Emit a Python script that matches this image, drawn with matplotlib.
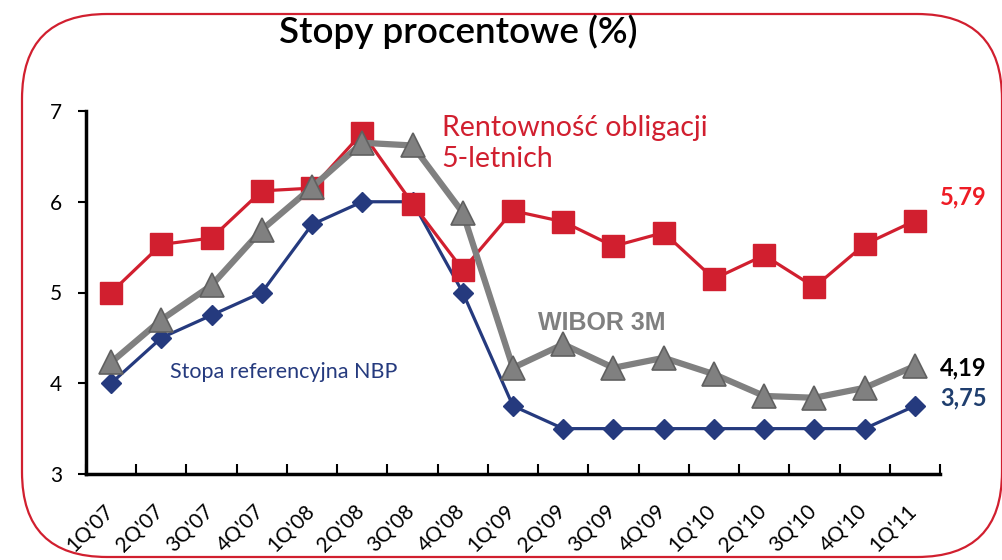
import numpy as np
import matplotlib
matplotlib.use("Agg")
import matplotlib.pyplot as plt
from matplotlib.patches import FancyBboxPatch
from matplotlib.ticker import FixedLocator, NullFormatter
from matplotlib.transforms import offset_copy

# ─── Data ───
quarters = ["1Q'07", "2Q'07", "3Q'07", "4Q'07", "1Q'08", "2Q'08", "3Q'08", "4Q'08",
            "1Q'09", "2Q'09", "3Q'09", "4Q'09", "1Q'10", "2Q'10", "3Q'10", "4Q'10", "1Q'11"]
bond_5y = [5.00, 5.53, 5.60, 6.12, 6.15, 6.76, 5.98, 5.25,
           5.90, 5.78, 5.51, 5.66, 5.15, 5.41, 5.06, 5.53, 5.79]
wibor_3m = [4.23, 4.70, 5.08, 5.69, 6.16, 6.65, 6.62, 5.88,
            4.17, 4.43, 4.17, 4.28, 4.10, 3.86, 3.84, 3.95, 4.19]
nbp_ref = [4.00, 4.50, 4.75, 5.00, 5.75, 6.00, 6.00, 5.00,
           3.75, 3.50, 3.50, 3.50, 3.50, 3.50, 3.50, 3.50, 3.75]
y_ticks = [3, 4, 5, 6, 7]

RED = "#d11f2f"
GREY = "#808080"
BLUE = "#253a7e"
CAL = "Lato"  # closest stand-in for Calibri

fig = plt.figure(figsize=(10.02, 5.6), dpi=100)

# rounded red frame (inches)
frame = FancyBboxPatch((0.22, 0.03), 9.80, 5.43,
                       boxstyle="round,pad=0,rounding_size=0.85",
                       transform=fig.dpi_scale_trans, fill=False,
                       edgecolor=RED, linewidth=1.6)
fig.patches.append(frame)

ax = fig.add_axes([86 / 1002, 1 - 474 / 560, (940 - 86) / 1002, (474 - 111) / 560])
x = np.arange(len(quarters))

ax.plot(x, nbp_ref, color=BLUE, lw=2.3, marker="D", ms=10,
        mec=BLUE, mfc=BLUE, zorder=3)
ax.plot(x, bond_5y, color=RED, lw=2.3, marker="s", ms=16,
        mec=RED, mfc=RED, zorder=4)
ax.plot(x, wibor_3m, color=GREY, lw=4.5, marker="^", ms=17,
        mec="#606060", mfc=GREY, mew=1.2, zorder=5)

ax.set_xlim(-0.5, len(quarters) - 0.5)
ax.set_ylim(3, 7)
ax.set_yticks(y_ticks)
ax.set_yticklabels([str(v) for v in y_ticks], fontsize=15, family=CAL)
ax.tick_params(axis="y", direction="out", length=6, width=1.5, pad=11)

ax.set_xticks(x)
ax.set_xticklabels([])
ax.tick_params(axis="x", which="major", length=0)
ax.xaxis.set_minor_locator(FixedLocator(np.arange(-0.5, len(quarters), 1.0)))
ax.xaxis.set_minor_formatter(NullFormatter())
ax.tick_params(axis="x", which="minor", direction="in", length=7, width=1.5)

lab_tr = offset_copy(ax.get_xaxis_transform(), fig=fig, x=-0.01, y=-0.34, units="inches")
for xi, q in zip(x, quarters):
    ax.text(xi, 0, q, transform=lab_tr, rotation=45, rotation_mode="anchor",
            ha="right", va="center", fontsize=15, family=CAL, clip_on=False)

for side in ("top", "right"):
    ax.spines[side].set_visible(False)
for side in ("left", "bottom"):
    ax.spines[side].set_linewidth(2.5)
ax.patch.set_alpha(0)

# title
fig.text(0.457, 0.943, "Stopy procentowe (%)", ha="center", va="center",
         fontsize=26.5, family=CAL, fontweight="semibold")

# series labels
ax.text(6.58, 6.64, "Rentowność obligacji\n5-letnich", color=RED, fontsize=20.5,
        family=CAL, va="center", ha="left", linespacing=1.22)
ax.text(8.5, 4.66, "WIBOR 3M", color=GREY, fontsize=18, fontweight="bold",
        family="Liberation Sans", va="center", ha="left")
ax.text(1.18, 4.12, "Stopa referencyjna NBP", color=BLUE, fontsize=15.5,
        family=CAL, va="center", ha="left")

# end values
last = len(quarters) - 1
ax.text(last + 0.5, bond_5y[-1] + 0.26, f"{bond_5y[-1]:.2f}".replace(".", ","),
        color="#ee1c25", fontsize=17, fontweight="bold", family=CAL,
        va="center", ha="left", clip_on=False)
ax.text(last + 0.5, wibor_3m[-1] - 0.02, f"{wibor_3m[-1]:.2f}".replace(".", ","),
        color="black", fontsize=17, fontweight="bold", family=CAL,
        va="center", ha="left", clip_on=False)
ax.text(last + 0.5, nbp_ref[-1] + 0.09, f"{nbp_ref[-1]:.2f}".replace(".", ","),
        color="#1f3e6e", fontsize=17, fontweight="bold", family=CAL,
        va="center", ha="left", clip_on=False)

fig.savefig("out.png", dpi=100)
